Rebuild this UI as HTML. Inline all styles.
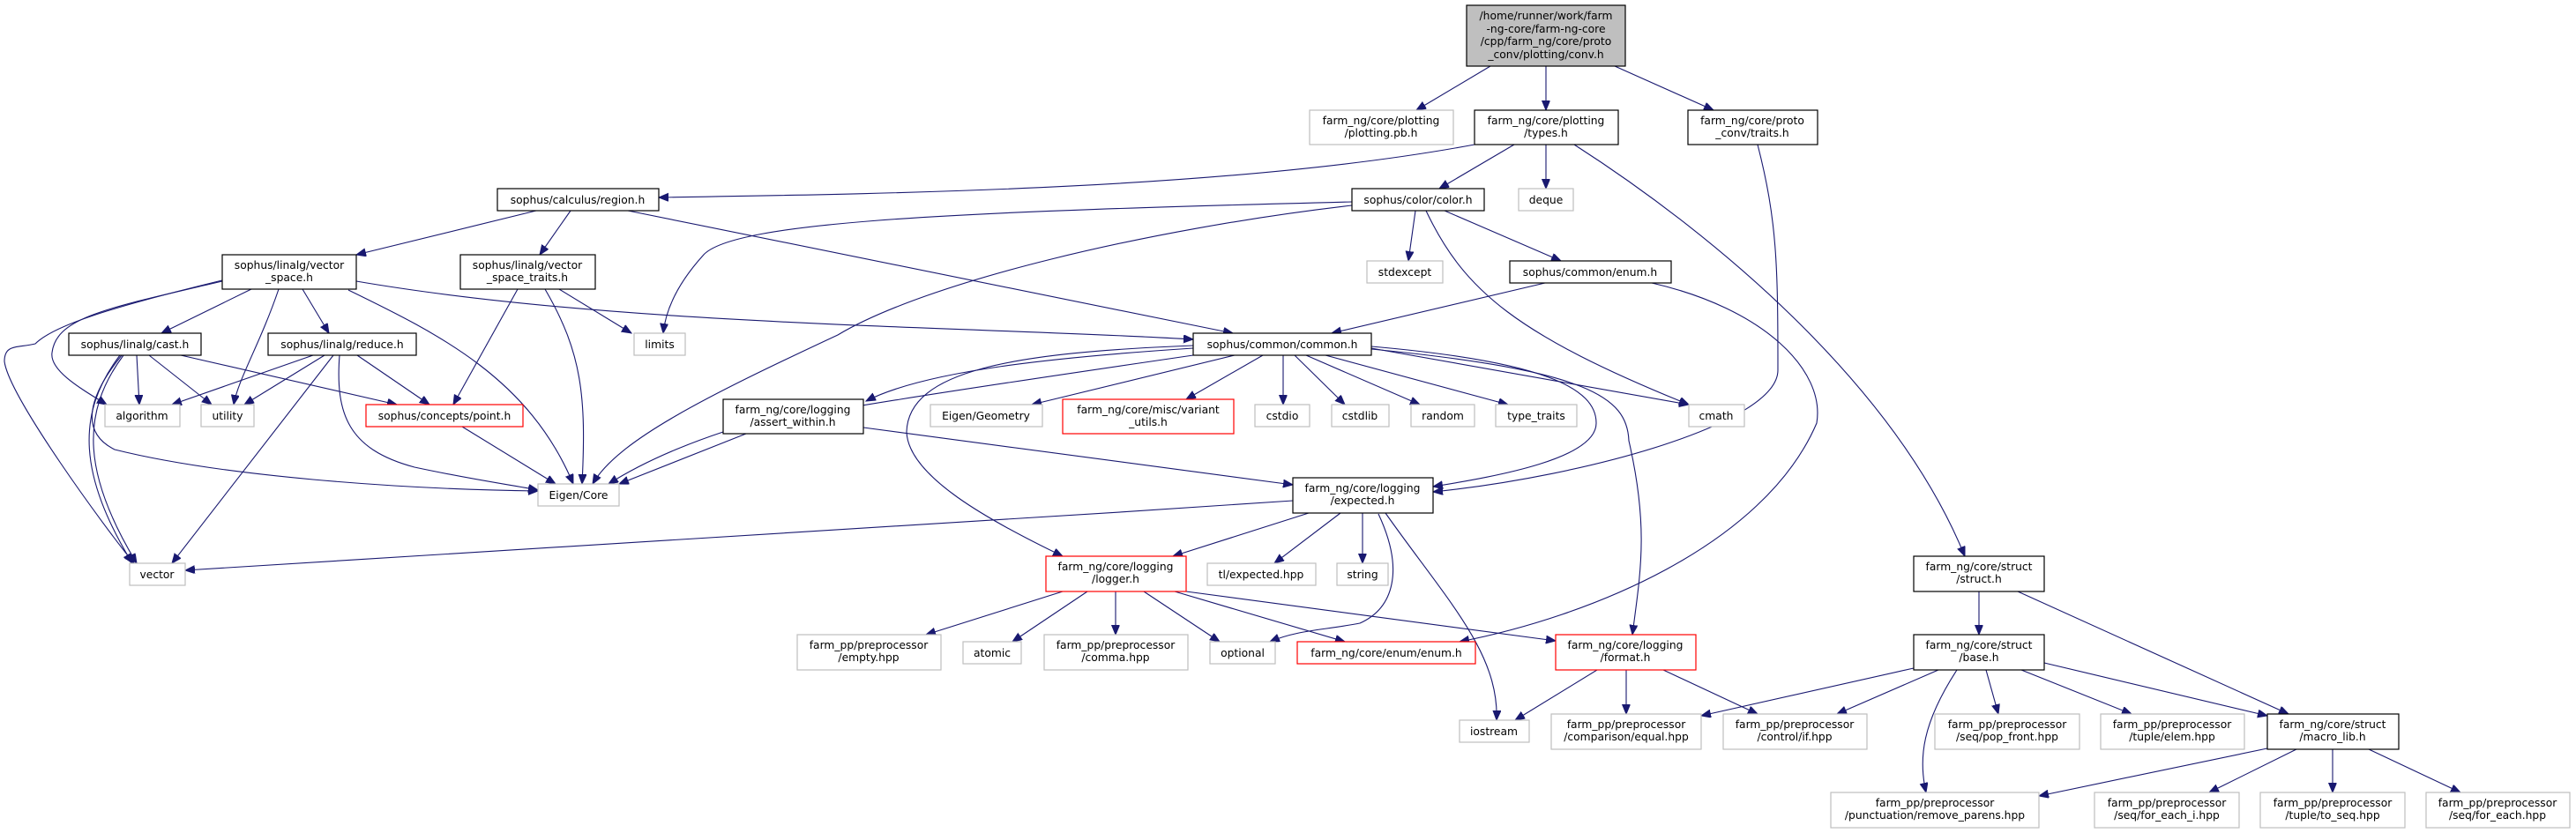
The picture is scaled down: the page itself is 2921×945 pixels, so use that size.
<!DOCTYPE html>
<html><head><meta charset="utf-8"><style>
html,body{margin:0;padding:0;background:#fff;}
svg{display:block;}
text{font-family:"DejaVu Sans","Liberation Sans",sans-serif;font-size:12.3px;fill:#000;}
.n{fill:#fff;stroke:#000;stroke-width:1.2}
.g{fill:#fff;stroke:#bfbfbf;stroke-width:1.2}
.r{fill:#fff;stroke:#ff0000;stroke-width:1.2}
.e{fill:none;stroke:#191970;stroke-width:1.1}
</style></head><body>
<svg width="2921" height="945" viewBox="0 0 2921 945" xmlns="http://www.w3.org/2000/svg">
<defs><marker id="a" markerUnits="userSpaceOnUse" markerWidth="12" markerHeight="10" refX="11" refY="4.5" orient="auto"><path d="M0,0 L11,4.5 L0,9 z" fill="#191970" stroke="#191970"/></marker></defs>
<g marker-end="url(#a)" class="e">
<path d="M1690,75 L1606,125"/>
<path d="M1753,75 L1753,125"/>
<path d="M1831,75 L1943,125"/>
<path d="M1672,164 C1400,215 1000,220 747,224"/>
<path d="M1717,164 L1632,214"/>
<path d="M1753,164 L1753,214"/>
<path d="M1785,164 C1950,270 2150,440 2228,631"/>
<path d="M1993,164 C2015,250 2016,300 2016,420 C2016,480 1800,540 1625,558"/>
<path d="M1533,229 C1100,240 830,250 797,290 C770,320 755,350 752,378"/>
<path d="M1533,233 C1300,260 1050,320 950,380 C800,450 700,500 672,549"/>
<path d="M1605,239 L1597,296"/>
<path d="M1638,239 L1770,296"/>
<path d="M1617,239 C1660,330 1720,380 1915,459"/>
<path d="M1752,321 L1510,378"/>
<path d="M1873,321 C2000,350 2070,420 2060,480 C2000,620 1800,700 1655,728"/>
<path d="M608,239 L404,289"/>
<path d="M647,239 L612,289"/>
<path d="M712,239 L1398,378"/>
<path d="M285,328 L183,378"/>
<path d="M343,328 L373,378"/>
<path d="M316,328 C295,390 270,430 265,459"/>
<path d="M252,319 C120,350 64,360 59,400 C56,420 90,440 121,459"/>
<path d="M252,318 C120,350 60,370 40,390 C20,395 5,390 5,410 C10,450 120,600 152,639"/>
<path d="M395,329 C500,380 600,430 650,549"/>
<path d="M404,319 C700,370 1100,370 1353,385"/>
<path d="M634,328 L716,378"/>
<path d="M587,328 L514,459"/>
<path d="M618,328 C660,400 665,450 660,549"/>
<path d="M155,403 L158,459"/>
<path d="M169,403 L240,459"/>
<path d="M205,403 L450,459"/>
<path d="M140,403 C90,470 95,540 155,639"/>
<path d="M136,403 C85,470 90,540 150,639"/>
<path d="M138,403 C100,450 90,490 130,510 C250,540 450,555 610,557"/>
<path d="M355,403 L195,459"/>
<path d="M368,403 L277,459"/>
<path d="M405,403 L487,459"/>
<path d="M378,403 L195,639"/>
<path d="M385,403 C380,470 395,510 470,530 C540,545 580,550 610,556"/>
<path d="M524,484 L630,549"/>
<path d="M846,492 L702,549"/>
<path d="M979,485 L1466,550"/>
<path d="M1400,403 L1170,459"/>
<path d="M1432,403 L1345,453"/>
<path d="M1455,403 L1455,459"/>
<path d="M1468,403 L1525,459"/>
<path d="M1481,403 L1610,459"/>
<path d="M1503,403 L1710,459"/>
<path d="M1555,395 L1915,459"/>
<path d="M1353,395 C1200,405 1050,420 982,455"/>
<path d="M1353,403 C1100,440 900,470 820,490 C760,510 720,530 690,549"/>
<path d="M1353,392 C1150,400 1030,420 1028,490 C1030,540 1120,590 1205,631"/>
<path d="M1555,393 C1750,410 1810,440 1810,480 C1810,520 1700,540 1625,552"/>
<path d="M1555,396 C1800,420 1845,450 1847,500 C1870,600 1860,650 1851,720"/>
<path d="M1466,568 C1000,600 500,625 210,647"/>
<path d="M1484,582 L1330,631"/>
<path d="M1520,582 L1445,639"/>
<path d="M1545,582 L1545,639"/>
<path d="M1563,583 C1593,647 1580,690 1542,707 C1500,715 1470,715 1440,728"/>
<path d="M1571,582 C1640,680 1700,740 1697,817"/>
<path d="M1205,671 L1050,720"/>
<path d="M1233,671 L1148,728"/>
<path d="M1265,671 L1265,720"/>
<path d="M1297,671 L1383,728"/>
<path d="M1332,671 L1525,728"/>
<path d="M1345,671 L1764,727"/>
<path d="M1811,760 L1718,817"/>
<path d="M1844,760 L1844,810"/>
<path d="M1886,760 L1993,810"/>
<path d="M2244,671 L2244,720"/>
<path d="M2288,671 L2595,810"/>
<path d="M2170,758 L1929,812"/>
<path d="M2198,760 L2083,810"/>
<path d="M2219,760 C2180,820 2175,860 2184,899"/>
<path d="M2252,760 L2266,810"/>
<path d="M2292,760 L2417,810"/>
<path d="M2318,752 L2571,812"/>
<path d="M2571,849 L2312,903"/>
<path d="M2604,850 L2505,899"/>
<path d="M2645,850 L2645,899"/>
<path d="M2686,850 L2790,899"/>
</g>
<g text-anchor="middle">
<rect x="1663" y="6" width="180" height="69" fill="#bfbfbf" stroke="#000" stroke-width="1.2"/>
<text x="1753" y="22">/home/runner/work/farm</text><text x="1753" y="37">-ng-core/farm-ng-core</text><text x="1753" y="51">/cpp/farm_ng/core/proto</text><text x="1753" y="66">_conv/plotting/conv.h</text>
<rect class="g" x="1485" y="125" width="163" height="39"/><text x="1566" y="141">farm_ng/core/plotting</text><text x="1566" y="155">/plotting.pb.h</text>
<rect class="n" x="1672" y="125" width="163" height="39"/><text x="1753" y="141">farm_ng/core/plotting</text><text x="1753" y="155">/types.h</text>
<rect class="n" x="1914" y="125" width="147" height="39"/><text x="1987" y="141">farm_ng/core/proto</text><text x="1987" y="155">_conv/traits.h</text>
<rect class="n" x="564" y="214" width="183" height="25"/><text x="655" y="231">sophus/calculus/region.h</text>
<rect class="n" x="1533" y="214" width="150" height="25"/><text x="1608" y="231">sophus/color/color.h</text>
<rect class="g" x="1722" y="214" width="62" height="25"/><text x="1753" y="231">deque</text>
<rect class="g" x="1550" y="296" width="86" height="25"/><text x="1593" y="313">stdexcept</text>
<rect class="n" x="1712" y="296" width="183" height="25"/><text x="1803" y="313">sophus/common/enum.h</text>
<rect class="n" x="252" y="289" width="152" height="39"/><text x="328" y="305">sophus/linalg/vector</text><text x="328" y="319">_space.h</text>
<rect class="n" x="522" y="289" width="153" height="39"/><text x="598" y="305">sophus/linalg/vector</text><text x="598" y="319">_space_traits.h</text>
<rect class="n" x="78" y="378" width="150" height="25"/><text x="153" y="395">sophus/linalg/cast.h</text>
<rect class="n" x="304" y="378" width="168" height="25"/><text x="388" y="395">sophus/linalg/reduce.h</text>
<rect class="g" x="719" y="378" width="58" height="25"/><text x="748" y="395">limits</text>
<rect class="n" x="1353" y="378" width="202" height="25"/><text x="1454" y="395">sophus/common/common.h</text>
<rect class="g" x="119" y="459" width="85" height="25"/><text x="161" y="476">algorithm</text>
<rect class="g" x="228" y="459" width="60" height="25"/><text x="258" y="476">utility</text>
<rect class="r" x="415" y="459" width="178" height="25"/><text x="504" y="476">sophus/concepts/point.h</text>
<rect class="n" x="820" y="453" width="159" height="39"/><text x="899" y="469">farm_ng/core/logging</text><text x="899" y="483">/assert_within.h</text>
<rect class="g" x="1055" y="459" width="127" height="25"/><text x="1118" y="476">Eigen/Geometry</text>
<rect class="r" x="1205" y="453" width="194" height="39"/><text x="1302" y="469">farm_ng/core/misc/variant</text><text x="1302" y="483">_utils.h</text>
<rect class="g" x="1423" y="459" width="62" height="25"/><text x="1454" y="476">cstdio</text>
<rect class="g" x="1510" y="459" width="65" height="25"/><text x="1542" y="476">cstdlib</text>
<rect class="g" x="1600" y="459" width="72" height="25"/><text x="1636" y="476">random</text>
<rect class="g" x="1696" y="459" width="92" height="25"/><text x="1742" y="476">type_traits</text>
<rect class="g" x="1915" y="459" width="63" height="25"/><text x="1946" y="476">cmath</text>
<rect class="g" x="610" y="549" width="92" height="25"/><text x="656" y="566">Eigen/Core</text>
<rect class="n" x="1466" y="542" width="159" height="40"/><text x="1545" y="558">farm_ng/core/logging</text><text x="1545" y="572">/expected.h</text>
<rect class="g" x="147" y="639" width="63" height="25"/><text x="178" y="656">vector</text>
<rect class="r" x="1186" y="631" width="159" height="40"/><text x="1265" y="647">farm_ng/core/logging</text><text x="1265" y="661">/logger.h</text>
<rect class="g" x="1369" y="639" width="123" height="25"/><text x="1430" y="656">tl/expected.hpp</text>
<rect class="g" x="1516" y="639" width="58" height="25"/><text x="1545" y="656">string</text>
<rect class="n" x="2170" y="631" width="148" height="40"/><text x="2244" y="647">farm_ng/core/struct</text><text x="2244" y="661">/struct.h</text>
<rect class="g" x="904" y="720" width="163" height="40"/><text x="985" y="736">farm_pp/preprocessor</text><text x="985" y="750">/empty.hpp</text>
<rect class="g" x="1092" y="728" width="66" height="25"/><text x="1125" y="745">atomic</text>
<rect class="g" x="1184" y="720" width="163" height="40"/><text x="1265" y="736">farm_pp/preprocessor</text><text x="1265" y="750">/comma.hpp</text>
<rect class="g" x="1372" y="728" width="74" height="25"/><text x="1409" y="745">optional</text>
<rect class="r" x="1471" y="728" width="202" height="25"/><text x="1572" y="745">farm_ng/core/enum/enum.h</text>
<rect class="r" x="1764" y="720" width="159" height="40"/><text x="1843" y="736">farm_ng/core/logging</text><text x="1843" y="750">/format.h</text>
<rect class="n" x="2170" y="720" width="148" height="40"/><text x="2244" y="736">farm_ng/core/struct</text><text x="2244" y="750">/base.h</text>
<rect class="g" x="1655" y="817" width="79" height="25"/><text x="1694" y="834">iostream</text>
<rect class="g" x="1759" y="810" width="170" height="40"/><text x="1844" y="826">farm_pp/preprocessor</text><text x="1844" y="840">/comparison/equal.hpp</text>
<rect class="g" x="1954" y="810" width="163" height="40"/><text x="2035" y="826">farm_pp/preprocessor</text><text x="2035" y="840">/control/if.hpp</text>
<rect class="g" x="2194" y="810" width="164" height="40"/><text x="2276" y="826">farm_pp/preprocessor</text><text x="2276" y="840">/seq/pop_front.hpp</text>
<rect class="g" x="2382" y="810" width="163" height="40"/><text x="2463" y="826">farm_pp/preprocessor</text><text x="2463" y="840">/tuple/elem.hpp</text>
<rect class="n" x="2571" y="810" width="149" height="40"/><text x="2645" y="826">farm_ng/core/struct</text><text x="2645" y="840">/macro_lib.h</text>
<rect class="g" x="2076" y="899" width="236" height="40"/><text x="2194" y="915">farm_pp/preprocessor</text><text x="2194" y="929">/punctuation/remove_parens.hpp</text>
<rect class="g" x="2375" y="899" width="164" height="40"/><text x="2457" y="915">farm_pp/preprocessor</text><text x="2457" y="929">/seq/for_each_i.hpp</text>
<rect class="g" x="2563" y="899" width="164" height="40"/><text x="2645" y="915">farm_pp/preprocessor</text><text x="2645" y="929">/tuple/to_seq.hpp</text>
<rect class="g" x="2751" y="899" width="163" height="40"/><text x="2832" y="915">farm_pp/preprocessor</text><text x="2832" y="929">/seq/for_each.hpp</text>
</g>
</svg>
</body></html>
